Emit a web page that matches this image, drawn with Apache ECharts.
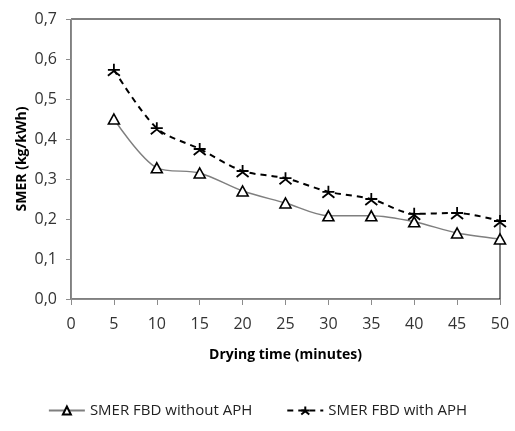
<!DOCTYPE html>
<html>
<head>
<meta charset="utf-8">
<script src="https://cdn.jsdelivr.net/npm/echarts@6/dist/echarts.min.js"></script>
<style>
  html, body { margin: 0; padding: 0; background: #fff; }
  #chart { width: 515px; height: 431px; }
</style>
</head>
<body>
<div id="chart"></div>
<script>
// drying time (minutes)
const minutes = [5, 10, 15, 20, 25, 30, 35, 40, 45, 50];
// SMER values
const smerWithoutAph = [0.45, 0.328, 0.315, 0.27, 0.24, 0.208, 0.208, 0.193, 0.165, 0.15];
const smerWithAph = [0.573, 0.427, 0.375, 0.32, 0.302, 0.268, 0.25, 0.213, 0.215, 0.195];

const font = '"Open Sans", sans-serif';
// star marker, Excel style
const starPath = 'path://M0,-6L0,0M0,0L-5,4M0,0L5,4M-5,-1L5,-1';

const chart = echarts.init(document.getElementById('chart'));

const pairs = (vals) => minutes.map((m, i) => [m, vals[i]]);

chart.setOption({
  animation: false,
  backgroundColor: '#fff',
  grid: {
    left: 71, top: 19, right: 15, bottom: 132,
    show: true, borderColor: '#000', borderWidth: 1
  },
  xAxis: {
    type: 'value',
    min: 0, max: 50, interval: 5,
    name: 'Drying time (minutes)',
    nameLocation: 'middle',
    nameGap: 49,
    nameTextStyle: { fontFamily: font, fontWeight: 'bold', fontSize: 14, color: '#000' },
    axisLine: { lineStyle: { color: '#8c8c8c' } },
    axisTick: { show: true, length: 6, lineStyle: { color: '#8c8c8c' } },
    axisLabel: { fontFamily: font, fontSize: 16, color: '#333', margin: 17 },
    splitLine: { show: false }
  },
  yAxis: {
    type: 'value',
    min: 0, max: 0.7, interval: 0.1,
    name: 'SMER (kg/kWh)',
    nameLocation: 'middle',
    nameGap: 42,
    nameMoveOverlap: false,
    nameTextStyle: { fontFamily: font, fontWeight: 'bold', fontSize: 14, color: '#000' },
    axisLine: { show: true, lineStyle: { color: '#8c8c8c' } },
    axisTick: { show: true, length: 5, lineStyle: { color: '#8c8c8c' } },
    axisLabel: {
      fontFamily: font, fontSize: 16, color: '#333', margin: 14,
      formatter: (v) => v.toFixed(1).replace('.', ',')
    },
    splitLine: { show: false }
  },
  legend: {
    bottom: 8,
    left: 'center',
    itemWidth: 36,
    itemHeight: 10,
    itemGap: 34,
    textStyle: { fontFamily: font, fontSize: 15, color: '#222' },
    data: ['SMER FBD without APH', 'SMER FBD with APH']
  },
  series: [
    {
      name: 'SMER FBD without APH',
      type: 'line',
      smooth: 0.3,
      data: pairs(smerWithoutAph),
      symbol: 'triangle',
      symbolSize: [11, 10],
      lineStyle: { color: '#7f7f7f', width: 1.4 },
      itemStyle: { color: '#fff', borderColor: '#000', borderWidth: 1.6 }
    },
    {
      name: 'SMER FBD with APH',
      type: 'line',
      smooth: 0.3,
      data: pairs(smerWithAph),
      symbol: starPath,
      symbolSize: [12, 12],
      lineStyle: { color: '#000', width: 2, type: [6, 5] },
      itemStyle: { color: '#000', borderColor: '#000', borderWidth: 1.8 }
    }
  ]
});
</script>
</body>
</html>
